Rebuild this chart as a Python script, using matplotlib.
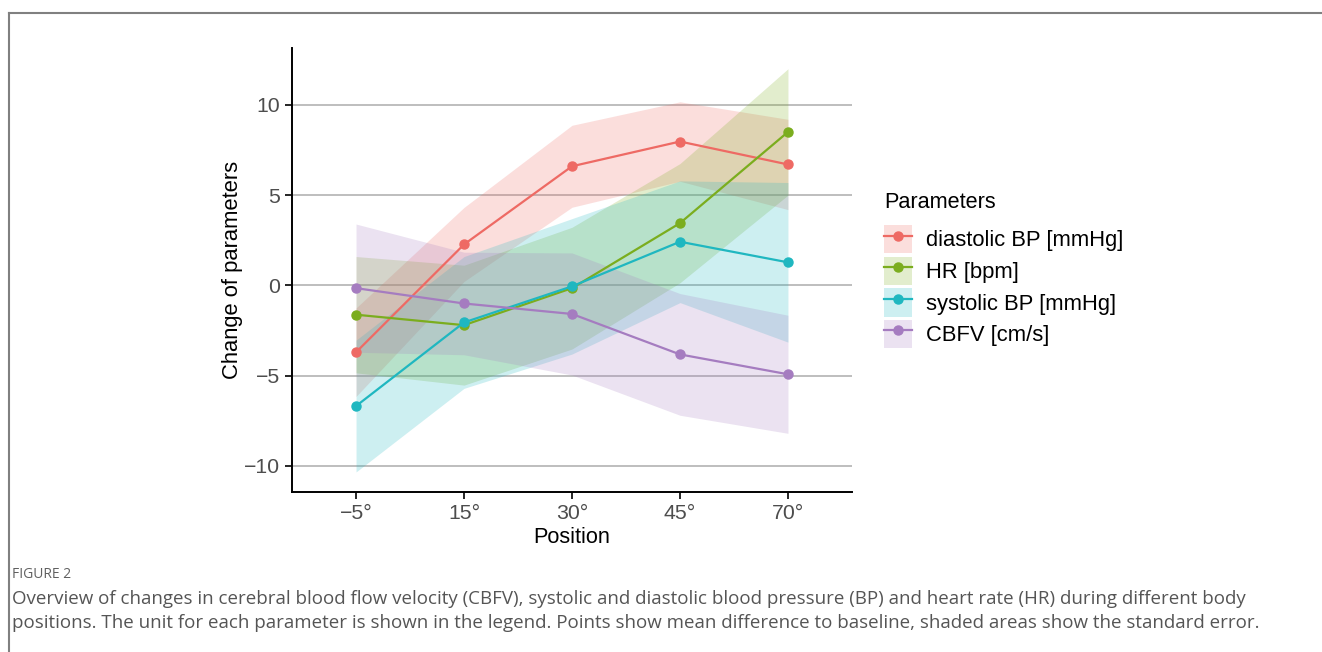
import matplotlib
matplotlib.use("Agg")
import matplotlib.pyplot as plt
from matplotlib.lines import Line2D
from matplotlib.patches import Patch
import numpy as np

positions = ["\u22125\u00b0", "15\u00b0", "30\u00b0", "45\u00b0", "70\u00b0"]
series_names = ["diastolic BP [mmHg]", "HR [bpm]", "systolic BP [mmHg]", "CBFV [cm/s]"]

diastolic_mean = [-3.7, 2.27, 6.6, 7.97, 6.7]
diastolic_se = [2.45, 2.05, 2.27, 2.2, 2.5]
hr_mean = [-1.62, -2.2, -0.15, 3.45, 8.5]
hr_se = [3.22, 3.32, 3.37, 3.3, 3.5]
systolic_mean = [-6.68, -2.05, -0.05, 2.42, 1.28]
systolic_se = [3.65, 3.65, 3.75, 3.37, 4.42]
cbfv_mean = [-0.15, -1.0, -1.58, -3.82, -4.92]
cbfv_se = [3.55, 2.84, 3.38, 3.37, 3.27]

colors = ["#EE6A64", "#7BAD1E", "#1FB7C0", "#A57CC0"]
means = [diastolic_mean, hr_mean, systolic_mean, cbfv_mean]
ses = [diastolic_se, hr_se, systolic_se, cbfv_se]

plt.rcParams['font.family'] = ['Liberation Sans', 'DejaVu Sans']

fig = plt.figure(figsize=(13.22, 6.52), dpi=100)
ax = fig.add_axes([292/1322, 1-492/652, (852-292)/1322, (492-48)/652])

x = np.arange(len(positions))
for m, s, c in zip(means, ses, colors):
    m = np.array(m); s = np.array(s)
    ax.fill_between(x, m - s, m + s, color=c, alpha=0.22, linewidth=0, zorder=2)
for m, c in zip(means, colors):
    ax.plot(x, m, color=c, linewidth=1.6, marker='o', markersize=6.5, zorder=4)

ax.set_xlim(-0.593, 4.593)
ax.set_ylim(-11.44, 13.15)
ax.set_xticks(x)
ax.set_xticklabels(positions)
ax.set_yticks([-10, -5, 0, 5, 10])
ax.set_yticklabels(["\u221210", "\u22125", "0", "5", "10"])
ax.yaxis.grid(True, color="#BEBEBE", linewidth=1.4, zorder=1)
ax.set_axisbelow(True)
for sp in ["top", "right"]:
    ax.spines[sp].set_visible(False)
for sp in ["left", "bottom"]:
    ax.spines[sp].set_color("black")
    ax.spines[sp].set_linewidth(1.4)
ax.tick_params(axis='both', colors="black", labelcolor="#4D4D4D", labelsize=15.3,
               length=5, width=1.2)
ax.set_xlabel("Position", fontsize=15.6, color="black", labelpad=3)
ax.set_ylabel("Change of parameters", fontsize=15.8, color="black", labelpad=1)

handles = []
for c in colors:
    p = Patch(facecolor=c, alpha=0.22, edgecolor='none')
    l = Line2D([], [], color=c, linewidth=1.6, marker='o', markersize=6.5)
    handles.append((p, l))
fig.text(884/1322, 1-203/652, "Parameters", fontsize=15.6, color="black", va="center", ha="left")
leg = fig.legend(handles, series_names, loc="upper left",
                 bbox_to_anchor=(884/1322, 1-225/652), frameon=False,
                 fontsize=15.8, handlelength=1.28,
                 handleheight=1.62, labelspacing=0.14, handletextpad=0.64,
                 borderaxespad=0, borderpad=0)

# frame lines
fig.add_artist(Line2D([9/1322, 1], [1-13/652, 1-13/652], color="#808080", linewidth=1.5, transform=fig.transFigure))
fig.add_artist(Line2D([9/1322, 9/1322], [0, 1-13/652], color="#808080", linewidth=1.5, transform=fig.transFigure))

fig.text(12/1322, 1-574/652, "FIGURE 2", fontsize=10, color="#606060", family="Open Sans", va="center")
fig.text(12/1322, 1-599/652,
         "Overview of changes in cerebral blood flow velocity (CBFV), systolic and diastolic blood pressure (BP) and heart rate (HR) during different body",
         fontsize=13.5, color="#555555", family="Open Sans", va="center")
fig.text(12/1322, 1-623/652,
         "positions. The unit for each parameter is shown in the legend. Points show mean difference to baseline, shaded areas show the standard error.",
         fontsize=13.5, color="#555555", family="Open Sans", va="center")

fig.savefig("out.png", dpi=100)
